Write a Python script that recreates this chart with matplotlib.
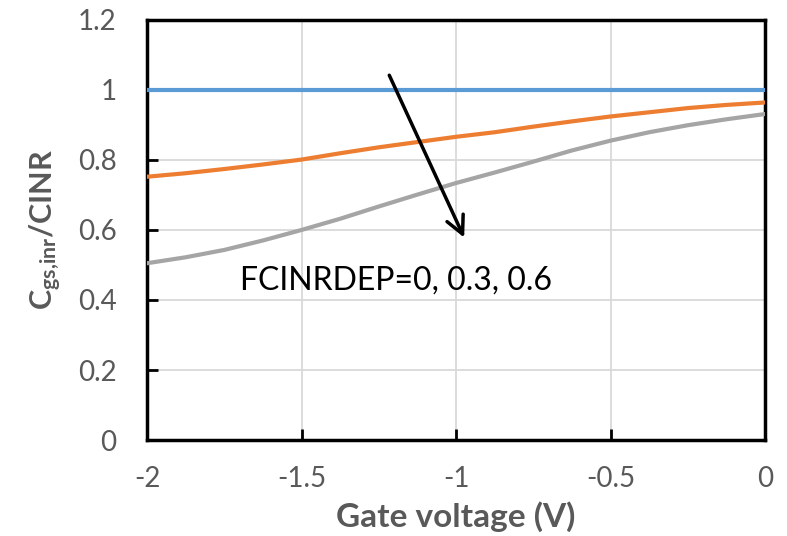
import matplotlib
matplotlib.use('Agg')
import matplotlib.pyplot as plt

plt.rcParams['font.family'] = ['Lato', 'DejaVu Sans']
plt.rcParams['mathtext.fontset'] = 'custom'
plt.rcParams['mathtext.rm'] = 'Lato'
plt.rcParams['mathtext.bf'] = 'Lato:bold'

# gate voltage (V)
vg = [-2.0, -1.875, -1.75, -1.625, -1.5, -1.375, -1.25, -1.125, -1.0,
      -0.875, -0.75, -0.625, -0.5, -0.375, -0.25, -0.125, 0.0]
# Cgs,inr / CINR for FCINRDEP = 0, 0.3, 0.6
c_dep0 = [1.0] * 17
c_dep03 = [0.752, 0.762, 0.774, 0.787, 0.801, 0.819, 0.836, 0.851, 0.866,
           0.879, 0.895, 0.910, 0.924, 0.936, 0.948, 0.957, 0.964]
c_dep06 = [0.505, 0.522, 0.543, 0.570, 0.600, 0.632, 0.667, 0.701, 0.734,
           0.764, 0.795, 0.827, 0.855, 0.879, 0.899, 0.916, 0.931]

xticks = [-2, -1.5, -1, -0.5, 0]
xtick_labels = ['-2', '-1.5', '-1', '-0.5', '0']
yticks = [0, 0.2, 0.4, 0.6, 0.8, 1.0, 1.2]
ytick_labels = ['0', '0.2', '0.4', '0.6', '0.8', '1', '1.2']

fig = plt.figure(figsize=(7.87, 5.36), dpi=100)
ax = fig.add_axes([0.187, 0.179, 0.785, 0.784])

ax.grid(True, color='#d9d9d9', linewidth=1.3, zorder=0)
ax.plot(vg, c_dep0, color='#5B9BD5', linewidth=3, zorder=3)
ax.plot(vg, c_dep03, color='#ED7D31', linewidth=3, zorder=3)
ax.plot(vg, c_dep06, color='#A5A5A5', linewidth=3, zorder=3)

ax.set_xlim(-2, 0)
ax.set_ylim(0, 1.2)
ax.set_xticks(xticks)
ax.set_xticklabels(xtick_labels)
ax.set_yticks(yticks)
ax.set_yticklabels(ytick_labels)
ax.tick_params(direction='in', length=8, width=2, color='black',
               labelsize=20, labelcolor='#595959')
ax.tick_params(axis='y', pad=22)
ax.tick_params(axis='x', pad=19)
for s in ax.spines.values():
    s.set_linewidth(2.5)
    s.set_color('black')

ax.set_xlabel('Gate voltage (V)', fontsize=24, fontweight='bold', color='#595959', labelpad=6)
ax.set_ylabel(r'$\mathbf{C_{gs{,}inr}}$/CINR', fontsize=22, fontweight='bold', color='#595959', labelpad=10)

# arrow pointing in direction of increasing FCINRDEP
ax.annotate('', xy=(-0.97, 0.571), xytext=(-1.22, 1.049),
            arrowprops=dict(arrowstyle='->', color='black', lw=2.5, mutation_scale=32), zorder=4)
ax.text(-1.70, 0.455, 'FCINRDEP=0, 0.3, 0.6', fontsize=23, color='black', va='center', ha='left', zorder=4)

fig.savefig('out.png', dpi=100)
